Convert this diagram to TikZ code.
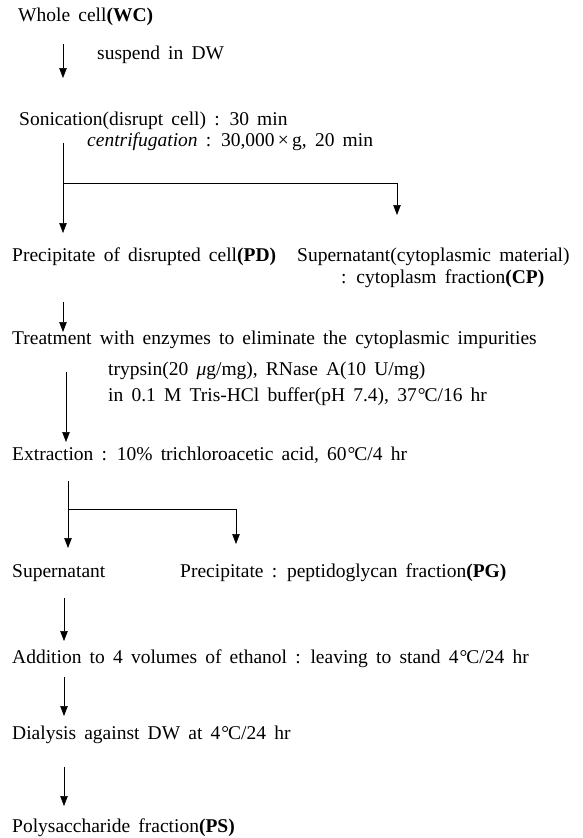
\documentclass[tikz,border=0pt]{standalone}
\usepackage{fontspec}
\setmainfont{Liberation Serif}
\usetikzlibrary{arrows.meta}
\newcommand\flowfont{\fontsize{19.5}{27}\selectfont\spaceskip=0.42em\relax}
\newcommand\degC{\kern0.05em°\kern-0.05em C}
\begin{document}
\begin{tikzpicture}[x=1pt,y=-1pt,
  txt/.style={font=\flowfont, inner sep=0pt, anchor=west, align=left},
  line/.style={line width=0.6pt},
  arr/.style={line width=0.6pt,-{Triangle[length=10pt,width=7.5pt]}}]
\useasboundingbox (0,0) rectangle (583,838);
% texts
\node[txt] (wc) at (18,17) {Whole cell\textbf{(WC)}};
\node[txt] (sus) at (97,55) {suspend in DW};
\node[txt] (son) at (19,121) {Sonication(disrupt cell) : 30 min};
\node[txt] (cen) at (87,142) {\textit{centrifugation} : 30,000\,×\,g, 20 min};
\node[txt] (pd) at (12,257) {Precipitate of disrupted cell\textbf{(PD)}};
\node[txt] (sup) at (297,257) {Supernatant(cytoplasmic material)};
\node[txt] (cp) at (341,279) {: cytoplasm fraction\textbf{(CP)}};
\node[txt] (tr) at (12,340) {Treatment with enzymes to eliminate the cytoplasmic impurities};
\node[txt] (try) at (108,371) {trypsin(20 \textit{μ}g/mg), RNase A(10 U/mg)};
\node[txt] (tris) at (108,397) {in 0.1 M Tris-HCl buffer(pH 7.4), 37\degC/16 hr};
\node[txt] (ex) at (12,455) {Extraction : 10\% trichloroacetic acid, 60\degC/4 hr};
\node[txt] (sn) at (12,573) {Supernatant};
\node[txt] (pg) at (180,573) {Precipitate : peptidoglycan fraction\textbf{(PG)}};
\node[txt] (add) at (12,659) {Addition to 4 volumes of ethanol : leaving to stand 4\degC/24 hr};
\node[txt] (dia) at (12,735) {Dialysis against DW at 4\degC/24 hr};
\node[txt] (ps) at (12,828) {Polysaccharide fraction\textbf{(PS)}};
% connector points
\coordinate (a1s) at (63,44);  \coordinate (a1e) at (63,78);
\coordinate (b1s) at (63,143); \coordinate (b1m) at (63,183);
\coordinate (b1e) at (63,233); \coordinate (b1r) at (397,183);
\coordinate (b1re) at (397,215);
\coordinate (a2s) at (63,302); \coordinate (a2e) at (63,332);
\coordinate (a3s) at (66,372); \coordinate (a3e) at (66,442);
\coordinate (b2s) at (68,481); \coordinate (b2m) at (68,509);
\coordinate (b2e) at (68,548); \coordinate (b2r) at (236,509);
\coordinate (b2re) at (236,544);
\coordinate (a4s) at (64,598); \coordinate (a4e) at (64,641);
\coordinate (a5s) at (64,677); \coordinate (a5e) at (64,716);
\coordinate (a6s) at (64,767); \coordinate (a6e) at (64,806);
% connectors
\draw[arr] (a1s) -- (a1e);
\draw[arr] (b1s) -- (b1e);
\draw[line] (b1m) -- (b1r);
\draw[arr] (b1r) -- (b1re);
\draw[arr] (a2s) -- (a2e);
\draw[arr] (a3s) -- (a3e);
\draw[arr] (b2s) -- (b2e);
\draw[line] (b2m) -- (b2r);
\draw[arr] (b2r) -- (b2re);
\draw[arr] (a4s) -- (a4e);
\draw[arr] (a5s) -- (a5e);
\draw[arr] (a6s) -- (a6e);
\end{tikzpicture}
\end{document}
